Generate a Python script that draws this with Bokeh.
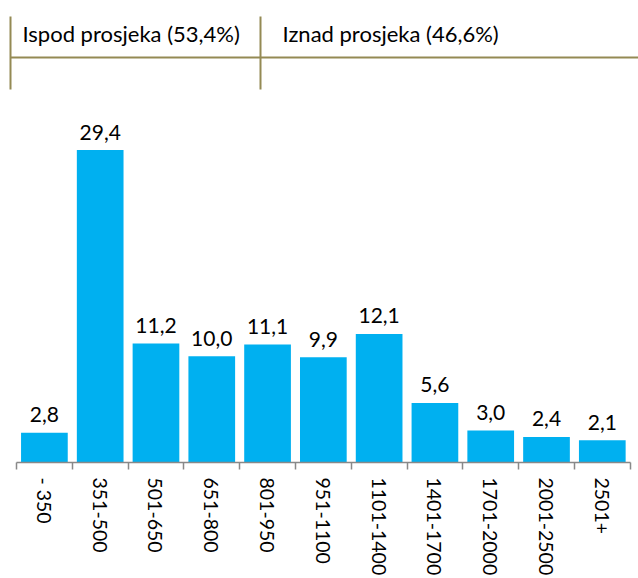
import math
import numpy as np
from bokeh.plotting import figure
from bokeh.models import Range1d, LinearAxis, FixedTicker, ColumnDataSource, Label
from bokeh.core.properties import value
from bokeh.embed import file_html
from bokeh.resources import INLINE

# ---- data ----
categories = ["- 350", "351-500", "501-650", "651-800", "801-950", "951-1100",
              "1101-1400", "1401-1700", "1701-2000", "2001-2500", "2501+"]
shares = [2.8, 29.4, 11.2, 10.0, 11.1, 9.9, 12.1, 5.6, 3.0, 2.4, 2.1]
group_labels = ["Ispod prosjeka (53,4%)", "Iznad prosjeka (46,6%)"]

FONT = "Lato"
BAR = "#00B0F0"
BRACKET = "#948A54"
AXIS = "#898989"

W, H = 638, 578
FB = 462.0          # expected frame bottom (px from top)
PXY = 10.626        # px per percentage point
PXX = 55.79         # px per category
X0 = 16.0           # px of category boundary 0

def dx(px):
    return (px - X0) / PXX

def dy(py):
    return (FB - py) / PXY

n = len(categories)
centers = np.arange(n) + 0.5
bounds = list(range(n + 1))
labels = [f"{v:.1f}".replace(".", ",") for v in shares]

src = ColumnDataSource(dict(x=centers, top=shares, lab=labels))

p = figure(width=W, height=H, output_backend="svg", toolbar_location=None,
           x_range=Range1d(dx(0), dx(W)), y_range=Range1d(0, dy(0)),
           x_axis_location=None, y_axis_location=None,
           min_border_left=0, min_border_right=0, min_border_top=0,
           min_border_bottom=int(H - FB))
p.outline_line_color = None
p.xgrid.visible = False
p.ygrid.visible = False
p.background_fill_color = None
p.border_fill_color = "white"

p.vbar(x="x", top="top", width=0.837, bottom=0, source=src,
       fill_color=BAR, line_color=None)
p.text(x="x", y="top", text="lab", source=src, text_align="center",
       text_baseline="alphabetic", y_offset=-18,
       text_font=value(FONT), text_font_size="21px", text_color="#000000")

ax = LinearAxis(ticker=FixedTicker(ticks=list(centers), minor_ticks=bounds),
                bounds=(0, n))
ax.major_label_overrides = {float(c): cat for c, cat in zip(centers, categories)}
ax.major_label_orientation = -math.pi / 2
ax.major_tick_out = 0
ax.major_tick_in = 0
ax.minor_tick_out = 7
ax.minor_tick_in = 0
ax.minor_tick_line_color = AXIS
ax.minor_tick_line_width = 1.5
ax.axis_line_color = AXIS
ax.axis_line_width = 1.5
ax.major_label_standoff = 8
ax.major_label_text_font = FONT
ax.major_label_text_font_size = "19.5px"
ax.major_label_text_color = "#000000"
p.add_layout(ax, "below")

# ---- group bracket (decoration, above the bars) ----
left_x, mid_x = dx(10), dx(260)
top_y, rule_y, bot_y = dy(16), dy(57), dy(89)
p.segment(x0=[left_x, mid_x], y0=[top_y, top_y], x1=[left_x, mid_x], y1=[bot_y, bot_y],
          line_color=BRACKET, line_width=2)
p.segment(x0=[left_x], y0=[rule_y], x1=[dx(W)], y1=[rule_y],
          line_color=BRACKET, line_width=2)
for xx, t in zip([dx(22), dx(282)], group_labels):
    p.add_layout(Label(x=xx, y=dy(33), text=t, text_font=FONT, text_font_size="22px",
                       text_color="#000000", text_baseline="alphabetic", text_align="left"))

open("out.html", "w").write(file_html(p, INLINE))
